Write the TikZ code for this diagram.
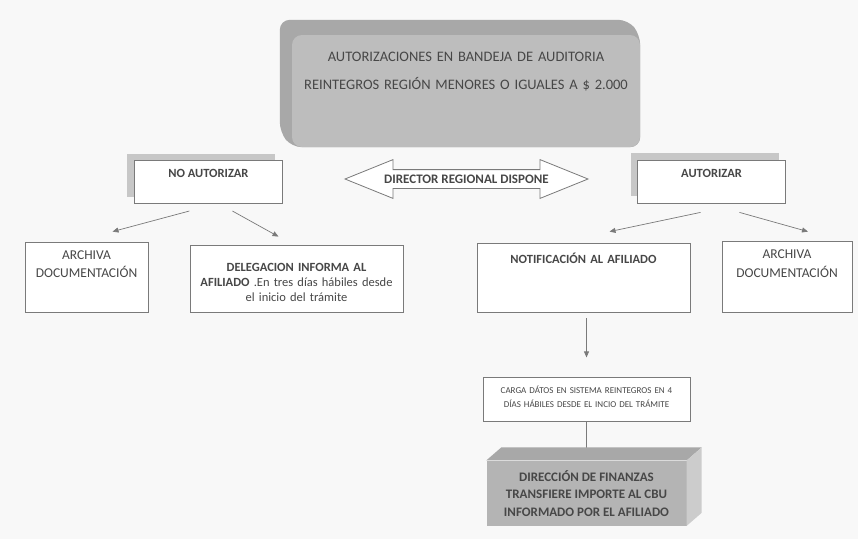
\documentclass[tikz,border=0pt]{standalone}
\usepackage{fontspec}
\setmainfont{Carlito}
\usetikzlibrary{positioning,shapes,shadows,arrows.meta,backgrounds}
\definecolor{inkgray}{HTML}{474747}
\definecolor{linegray}{HTML}{7A7A7A}
\definecolor{boxgray}{HTML}{BDBDBD}
\definecolor{depthgray}{HTML}{A8A8A8}
\definecolor{facegray}{HTML}{B4B4B4}
\definecolor{paper}{HTML}{F8F8F8}
\tikzstyle{plainbox}=[
	rectangle,
	draw=linegray,
	line width=0.8pt,
	fill=white,
	text=inkgray,
	align=center,
	inner sep=0pt
	]
\tikzstyle{decision}=[
	plainbox,
	font=\fontsize{12.5}{15}\selectfont\bfseries,
	drop shadow={shadow xshift=-7pt, shadow yshift=7pt, fill=black!22, opacity=1},
	minimum width=148pt, minimum height=43pt, text depth=17pt
	]
\tikzstyle{headbox}=[
	rectangle, rounded corners=10pt,
	fill=boxgray, text=inkgray, align=center, inner sep=0pt,
	text width=340pt, minimum width=348pt, minimum height=112pt,
	font=\fontsize{14.5}{28}\selectfont
	]
\tikzstyle{flow}=[-{Triangle[length=6pt,width=5pt]}, draw=linegray, line width=0.7pt]

\begin{document}
\begin{tikzpicture}[x=1pt, y=-1pt, font=\fontsize{12.5}{15}\selectfont]
	\useasboundingbox (0,0) rectangle (858,539);

	\node (auditoria) [headbox, text depth=68pt] at (466,91) {
		AUTORIZACIONES EN BANDEJA DE AUDITORIA\\
		REINTEGROS REGIÓN MENORES O IGUALES A \$ 2.000
	};

	\node (noaut) [decision, below left=13pt and 9pt of auditoria] {NO AUTORIZAR};
	\node (aut) [decision] at (711.5,181.5) {AUTORIZAR};

	\node (dispone) [double arrow, draw=linegray, fill=white, line width=0.8pt, text=inkgray,
		font=\fontsize{13}{15}\selectfont\bfseries,
		minimum height=243pt, minimum width=38pt, double arrow head extend=10pt,
		double arrow tip angle=44, inner sep=4.8pt, text height=8.4pt, text depth=0pt]
		at (466.5,179) {DIRECTOR REGIONAL DISPONE};

	\node (archL) [plainbox, font=\fontsize{13.5}{18.3}\selectfont, text width=118pt,
		minimum width=123pt, minimum height=70pt, text depth=44pt] at (86.5,277) {
		ARCHIVA\\ DOCUMENTACIÓN
	};
	\node (deleg) [plainbox, text width=208pt, minimum width=213pt, minimum height=67pt,
		text depth=23pt] at (296.5,278.5) {
		\textbf{DELEGACION INFORMA AL}\\
		\textbf{AFILIADO} .En tres días hábiles desde\\
		el inicio del trámite
	};
	\node (notif) [plainbox, font=\fontsize{12.5}{15}\selectfont\bfseries, text width=208pt,
		minimum width=213pt, minimum height=69pt, text depth=39pt] at (583.5,277.5) {
		NOTIFICACIÓN AL AFILIADO
	};
	\node (archR) [plainbox, font=\fontsize{13.5}{18.3}\selectfont, text width=125pt,
		minimum width=130pt, minimum height=71pt, text depth=44pt] at (787,276.5) {
		ARCHIVA\\ DOCUMENTACIÓN
	};

	\node (carga) [plainbox, font=\fontsize{9}{14}\selectfont, text width=202pt,
		minimum width=207pt, minimum height=44pt, text depth=19pt] at (586.5,399) {
		CARGA DÁTOS EN SISTEMA REINTEGROS EN 4\\
		DÍAS HÁBILES DESDE EL INCIO DEL TRÁMITE
	};
	\node (fin) [rectangle, fill=facegray, text=inkgray, align=center, inner sep=0pt,
		font=\fontsize{13}{17.5}\selectfont\bfseries,
		minimum width=200pt, minimum height=65pt, below=39pt of carga] {
		DIRECCIÓN DE FINANZAS\\
		TRANSFIERE IMPORTE AL CBU\\
		INFORMADO POR EL AFILIADO
	};

	% connectors
	\draw[flow] ([xshift=-19pt,yshift=-7pt]noaut.south) -- ([xshift=26pt,yshift=10pt]archL.north);
	\draw[flow] ([xshift=24pt,yshift=-7pt]noaut.south) -- ([xshift=-18pt,yshift=8pt]deleg.north);
	\draw[flow] ([xshift=-11pt,yshift=-9pt]aut.south) -- ([xshift=26pt,yshift=11pt]notif.north);
	\draw[flow] ([xshift=28pt,yshift=-9pt]aut.south) -- ([xshift=21pt,yshift=9pt]archR.north);
	\draw[flow] (notif.south -| carga.north) ++(0,6) -- ++(0,39);
	\draw[linegray, line width=0.8pt] (carga.south) -- (carga.south |- fin.north);

	% depth of the finance box
	\fill[depthgray] (fin.north west) -- ([xshift=15pt,yshift=13pt]fin.north west)
		-- ([xshift=15pt,yshift=13pt]fin.north east) -- (fin.north east) -- cycle;
	\fill[black!20] (fin.north east) -- ([xshift=15pt,yshift=13pt]fin.north east)
		-- ([xshift=15pt,yshift=13pt]fin.south east) -- (fin.south east) -- cycle;

	\begin{scope}[on background layer]
		\fill[paper] (0,0) rectangle (858,539);
		\fill[depthgray, rounded corners=10pt]
			([xshift=-12pt,yshift=15pt]auditoria.north west)
			-- ([xshift=-12pt,yshift=15pt]auditoria.north east)
			-- (auditoria.north east) -- (auditoria.south east) -- (auditoria.south west)
			-- ([xshift=-12pt,yshift=15pt]auditoria.south west) -- cycle;
	\end{scope}
\end{tikzpicture}
\end{document}
